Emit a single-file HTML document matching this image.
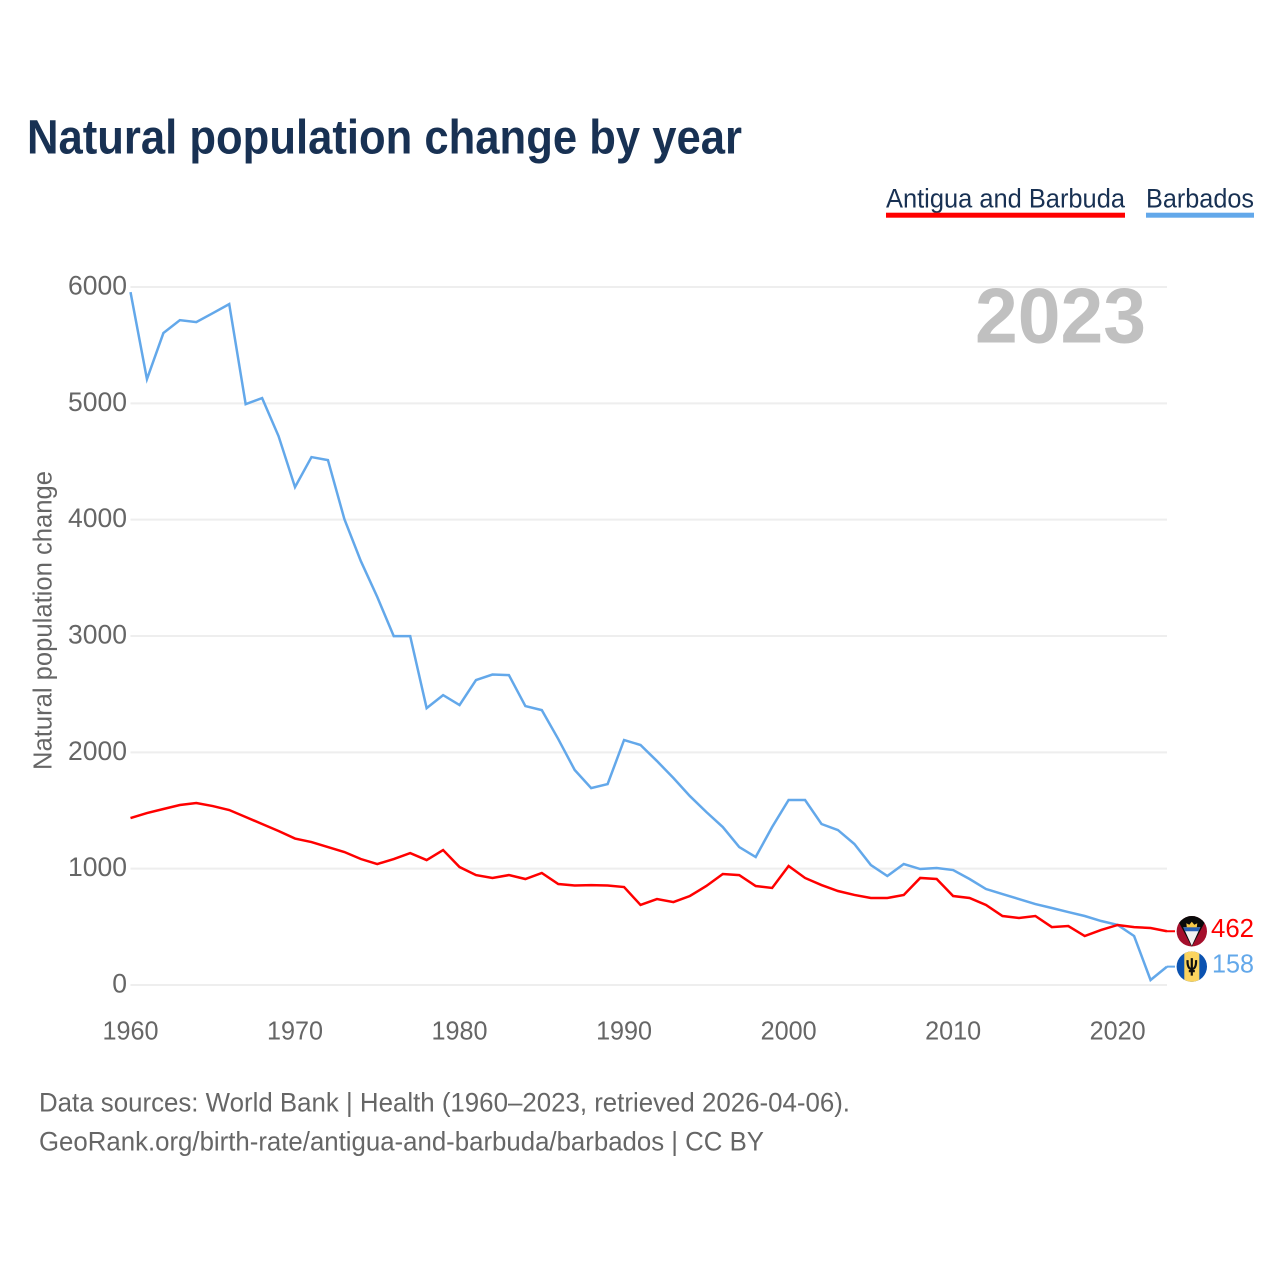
<!DOCTYPE html>
<html lang="en">
<head>
<meta charset="utf-8">
<title>Natural population change by year</title>
<style>
html,body{margin:0;padding:0;background:#fff;width:1280px;height:1280px;overflow:hidden}
svg{display:block}
text{font-family:"Liberation Sans",sans-serif}
</style>
</head>
<body>
<svg id="chart" width="1280" height="1280" viewBox="0 0 1280 1280" xmlns="http://www.w3.org/2000/svg">
  <defs>
    <clipPath id="flag-clip"><circle cx="0" cy="0" r="15.2"/></clipPath>
  </defs>
  <text x="27" y="153.5" font-size="48" font-weight="700" fill="#183153" textLength="715" lengthAdjust="spacingAndGlyphs">Natural population change by year</text>

  <g>
    <text x="886" y="207.5" font-size="27" fill="#183153" textLength="239" lengthAdjust="spacingAndGlyphs">Antigua and Barbuda</text>
    <rect x="886" y="212.7" width="239" height="5" fill="#ff0000"/>
  </g>
  <g>
    <text x="1146" y="207.5" font-size="27" fill="#183153" textLength="108" lengthAdjust="spacingAndGlyphs">Barbados</text>
    <rect x="1146" y="212.7" width="108" height="5" fill="#63a8ea"/>
  </g>

  <g id="grid"></g>
  <g id="y-ticks"></g>
  <g id="x-ticks"></g>

  <text transform="translate(51.5,770) rotate(-90)" font-size="25.5" fill="#666666" textLength="299" lengthAdjust="spacingAndGlyphs">Natural population change</text>

  <text id="year-label" x="1146" y="342.5" font-size="78" font-weight="700" fill="#c0c0c0" text-anchor="end" textLength="171" lengthAdjust="spacingAndGlyphs"></text>

  <polyline id="line-barbados" fill="none" stroke="#63a8ea" stroke-width="2.5" stroke-linejoin="miter"/>
  <polyline id="line-antigua" fill="none" stroke="#ff0000" stroke-width="2.5" stroke-linejoin="miter"/>

  <g id="end-antigua">
    <line x1="1167" x2="1175" y1="0" y2="0" stroke="#ff0000" stroke-width="2"/>
    <g transform="translate(1191.8,0)" clip-path="url(#flag-clip)">
      <rect x="-16" y="-16" width="32" height="32" fill="#a50f2c"/>
      <polygon points="-16,-16 16,-16 13,-9 0,15.5 -13,-9" fill="#0a0a0a"/>
      <polygon points="-8.5,-4 8.5,-4 0,14.5" fill="#f2f2f2"/>
      <polygon points="-8.5,-4 8.5,-4 6.6,0 -6.6,0" fill="#2a62b8"/>
      <polygon points="-5,-4 -5.5,-8 -2.5,-6.5 0,-9.5 2.5,-6.5 5.5,-8 5,-4" fill="#f7c948"/>
    </g>
    <text id="value-antigua" x="1211" y="5.5" font-size="26" fill="#ff0000" textLength="43" lengthAdjust="spacingAndGlyphs"></text>
  </g>
  <g id="end-barbados">
    <line x1="1167" x2="1175" y1="0" y2="0" stroke="#63a8ea" stroke-width="2"/>
    <g transform="translate(1191.8,0)" clip-path="url(#flag-clip)">
      <rect x="-16" y="-16" width="32" height="32" fill="#0b52b0"/>
      <rect x="-7.5" y="-16" width="15" height="32" fill="#fbd45f"/>
      <path d="M0,-8.5 V9 M-4.2,-6.5 C-4.6,-1 -3,2.5 0,2.5 C3,2.5 4.6,-1 4.2,-6.5 M-3,4.5 H3" fill="none" stroke="#111" stroke-width="2.2"/>
    </g>
    <text id="value-barbados" x="1212" y="6" font-size="26" fill="#63a8ea" textLength="42" lengthAdjust="spacingAndGlyphs"></text>
  </g>

  <text x="39" y="1111.5" font-size="27" fill="#666666" textLength="811" lengthAdjust="spacingAndGlyphs">Data sources: World Bank | Health (1960–2023, retrieved 2026-04-06).</text>
  <text x="39" y="1150.5" font-size="27" fill="#666666" textLength="725" lengthAdjust="spacingAndGlyphs">GeoRank.org/birth-rate/antigua-and-barbuda/barbados | CC BY</text>
</svg>
<script>
const firstYear = 1960;
const lastYear = 2023;
const xTickLabels = [1960, 1970, 1980, 1990, 2000, 2010, 2020];
const yTickLabels = [0, 1000, 2000, 3000, 4000, 5000, 6000];
const barbadosValues = [
  5956, 5208, 5604, 5715, 5698, 5775, 5853, 4993, 5045, 4718,
  4280, 4538, 4512, 4005, 3644, 3335, 2999, 2999, 2380, 2492,
  2406, 2621, 2669, 2664, 2398, 2363, 2114, 1848, 1693, 1727,
  2106, 2063, 1925, 1779, 1624, 1487, 1358, 1186, 1100, 1358,
  1590, 1590, 1384, 1332, 1212, 1031, 937, 1040, 997, 1006,
  988, 911, 825, 782, 739, 696, 662, 627, 593, 550,
  516, 421, 43, 158
];
const antiguaValues = [
  1435, 1478, 1513, 1547, 1564, 1538, 1504, 1444, 1384, 1324,
  1259, 1229, 1186, 1143, 1083, 1040, 1083, 1134, 1074, 1160,
  1014, 945, 920, 945, 911, 963, 868, 855, 859, 855,
  842, 688, 739, 713, 765, 851, 954, 945, 851, 834,
  1023, 920, 859, 808, 774, 748, 748, 774, 920, 911,
  765, 748, 688, 593, 576, 593, 498, 507, 421, 473,
  516, 498, 490, 462
];

const SVG_NS = 'http://www.w3.org/2000/svg';
function xScale(year) {
  return 130.5 + (year - firstYear) * (1167 - 130.5) / (lastYear - firstYear);
}
function yScale(value) {
  return 985 - value * (985 - 287) / 6000;
}
function pointsFor(values) {
  return values.map(function (v, i) {
    return xScale(firstYear + i).toFixed(2) + ',' + yScale(v).toFixed(2);
  }).join(' ');
}

const gridGroup = document.getElementById('grid');
const yTickGroup = document.getElementById('y-ticks');
const xTickGroup = document.getElementById('x-ticks');

yTickLabels.forEach(function (tick) {
  const gridLine = document.createElementNS(SVG_NS, 'line');
  
  
  gridLine.setAttribute('x1', xScale(firstYear));
  gridLine.setAttribute('x2', xScale(lastYear));
  gridLine.setAttribute('y1', yScale(tick));
  gridLine.setAttribute('y2', yScale(tick));
  gridLine.setAttribute('stroke', '#eeeeee');
  gridLine.setAttribute('stroke-width', '2');
  gridGroup.appendChild(gridLine);

  const label = document.createElementNS(SVG_NS, 'text');
  
  
  label.setAttribute('x', 127);
  label.setAttribute('y', yScale(tick) + 7.5);
  label.setAttribute('font-size', '26.5');
  label.setAttribute('fill', '#666666');
  label.setAttribute('text-anchor', 'end');
  label.textContent = tick;
  yTickGroup.appendChild(label);
});

xTickLabels.forEach(function (tick) {
  const label = document.createElementNS(SVG_NS, 'text');
  
  
  label.setAttribute('x', xScale(tick));
  label.setAttribute('y', 1039.5);
  label.setAttribute('font-size', '26');
  label.setAttribute('fill', '#666666');
  label.setAttribute('text-anchor', 'middle');
  label.setAttribute('textLength', '56');
  label.setAttribute('lengthAdjust', 'spacingAndGlyphs');
  label.textContent = tick;
  xTickGroup.appendChild(label);
});

document.getElementById('line-barbados').setAttribute('points', pointsFor(barbadosValues));
document.getElementById('line-antigua').setAttribute('points', pointsFor(antiguaValues));

const lastAntigua = antiguaValues[antiguaValues.length - 1];
const lastBarbados = barbadosValues[barbadosValues.length - 1];
document.getElementById('end-antigua').setAttribute('transform', 'translate(0,' + yScale(lastAntigua).toFixed(2) + ')');
document.getElementById('end-barbados').setAttribute('transform', 'translate(0,' + yScale(lastBarbados).toFixed(2) + ')');
document.getElementById('value-antigua').textContent = lastAntigua;
document.getElementById('value-barbados').textContent = lastBarbados;
document.getElementById('year-label').textContent = lastYear;
</script>
</body>
</html>
